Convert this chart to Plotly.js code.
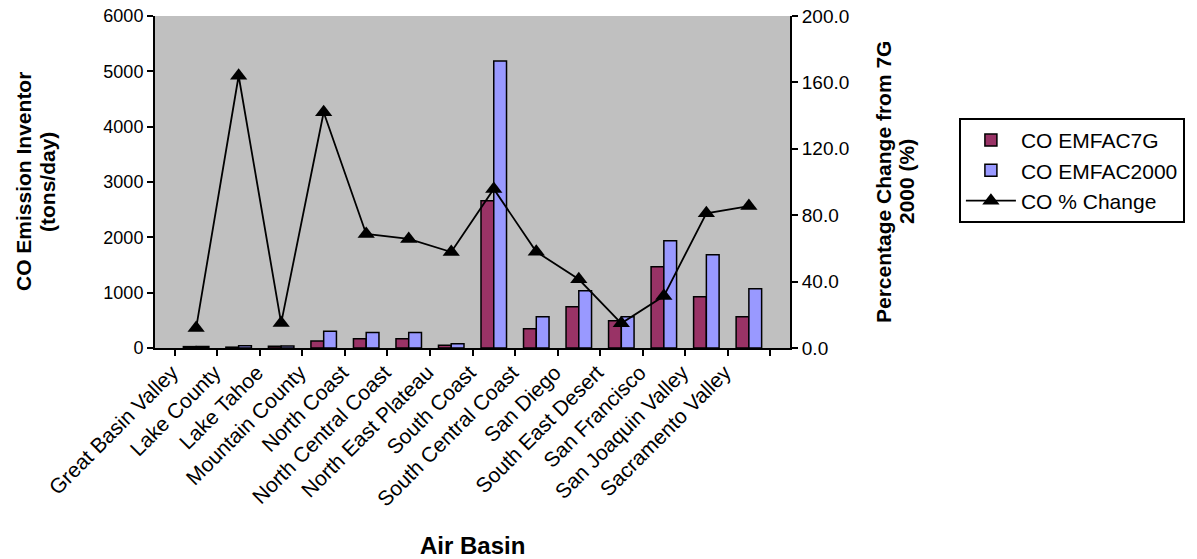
<!DOCTYPE html>
<html>
<head>
<meta charset="utf-8">
<script src="https://cdn.plot.ly/plotly-3.0.1.min.js"></script>
<style>html,body{margin:0;padding:0;background:#fff;}#chart{width:1197px;height:559px;}</style>
</head>
<body>
<div id="chart"></div>
<script>
const categories = ["Great Basin Valley","Lake County","Lake Tahoe","Mountain County","North Coast","North Central Coast","North East Plateau","South Coast","South Central Coast","San Diego","South East Desert","San Francisco","San Joaquin Valley","Sacramento Valley"];
const coEmfac7G = [25, 15, 30, 125, 165, 168, 50, 2662, 349, 747, 494, 1470, 927, 566];
const coEmfac2000 = [28, 40, 35, 303, 278, 278, 79, 5187, 566, 1036, 566, 1940, 1686, 1072];
const coPctChange = [12.0, 164.0, 15.0, 142.0, 68.7, 65.7, 57.8, 95.8, 58.0, 41.4, 14.9, 31.3, 81.1, 85.5];
const xTitle = "Air Basin";
const yTitleLines = ["CO Emission Inventor", "(tons/day)"];
const y2TitleLines = ["Percentage Change from 7G", "2000 (%)"];

const FONT = "Liberation Sans, Arial, sans-serif";

const traces = [
  {type: "bar", name: "CO EMFAC7G", x: categories, y: coEmfac7G,
   marker: {color: "#993366", line: {color: "#000", width: 1.5}}},
  {type: "bar", name: "CO EMFAC2000", x: categories, y: coEmfac2000,
   marker: {color: "#9999FF", line: {color: "#000", width: 1.5}}},
  {type: "scatter", mode: "lines+markers", name: "CO % Change", x: categories, y: coPctChange, yaxis: "y2",
   line: {color: "#000", width: 1.8}, marker: {symbol: "triangle-up", size: 15, color: "#000"}}
];

const annotations = [
  {xref: "paper", yref: "paper", x: 0.5, y: 0, yshift: -197, xanchor: "center", yanchor: "middle",
   text: "<b>" + xTitle + "</b>", showarrow: false, font: {family: FONT, size: 24}},
  {xref: "paper", yref: "paper", x: 0, xshift: -132, y: 0.5, xanchor: "center", yanchor: "middle", textangle: -90,
   text: "<b>" + yTitleLines[0] + "</b>", showarrow: false, font: {family: FONT, size: 21}},
  {xref: "paper", yref: "paper", x: 0, xshift: -108, y: 0.5, xanchor: "center", yanchor: "middle", textangle: -90,
   text: "<b>" + yTitleLines[1] + "</b>", showarrow: false, font: {family: FONT, size: 21}},
  {xref: "paper", yref: "paper", x: 1, xshift: 93, y: 0.5, xanchor: "center", yanchor: "middle", textangle: -90,
   text: "<b>" + y2TitleLines[0] + "</b>", showarrow: false, font: {family: FONT, size: 21}},
  {xref: "paper", yref: "paper", x: 1, xshift: 116, y: 0.5, xanchor: "center", yanchor: "middle", textangle: -90,
   text: "<b>" + y2TitleLines[1] + "</b>", showarrow: false, font: {family: FONT, size: 21}}
];

const layout = {
  width: 1197, height: 559,
  margin: {l: 155, r: 407, t: 16, b: 211},
  paper_bgcolor: "#fff", plot_bgcolor: "#C0C0C0",
  font: {family: FONT, color: "#000", size: 18},
  barmode: "group", bargap: 0.4, bargroupgap: 0,
  showlegend: true,
  legend: {x: 1.266, y: 0.693, xanchor: "left", yanchor: "top",
           bgcolor: "#fff", bordercolor: "#000", borderwidth: 2,
           font: {family: FONT, size: 21, color: "#000"}, itemwidth: 50, tracegroupgap: 0},
  annotations: annotations,
  xaxis: {type: "category", tickson: "boundaries", ticks: "outside", ticklen: 6, tickwidth: 2, tickcolor: "#000",
          showline: true, linecolor: "#000", linewidth: 2, tickangle: -45, showgrid: false,
          tickfont: {family: FONT, size: 21}, automargin: false, ticklabelshift: -24, ticklabelstandoff: 2},
  yaxis: {range: [0, 6000], dtick: 1000, ticks: "outside", ticklen: 6, tickwidth: 2, tickcolor: "#000",
          showline: true, linecolor: "#000", linewidth: 2, showgrid: false, zeroline: false,
          tickfont: {family: FONT, size: 18}, automargin: false},
  yaxis2: {range: [0, 200], dtick: 40, tickformat: ".1f", overlaying: "y", side: "right",
           ticks: "outside", ticklen: 6, tickwidth: 2, tickcolor: "#000",
           showline: true, linecolor: "#000", linewidth: 2, showgrid: false, zeroline: false,
           tickfont: {family: FONT, size: 19}, automargin: false}
};

Plotly.newPlot("chart", traces, layout, {displayModeBar: false, staticPlot: true});
</script>
</body>
</html>
